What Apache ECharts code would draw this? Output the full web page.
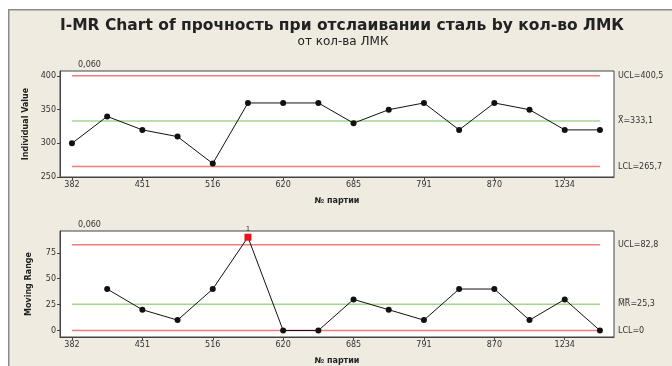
<!DOCTYPE html>
<html>
<head>
<meta charset="utf-8">
<script src="https://cdn.jsdelivr.net/npm/echarts@6/dist/echarts.min.js"></script>
<style>
  html, body { margin: 0; padding: 0; background: #ffffff; }
  #chart { width: 672px; height: 366px; }
</style>
</head>
<body>
<div id="chart"></div>
<script>
// Lot numbers shown on the x axis (every second observation)
const tickPositions = [0, 2, 4, 6, 8, 10, 12, 14];
const tickLabels = ['382', '451', '516', '620', '685', '791', '870', '1234'];

// Individual peel-strength values per lot
const individualValues = [300, 340, 320, 310, 270, 360, 360, 360, 330, 350, 360, 320, 360, 350, 320, 320];

// Moving ranges (start at the second observation)
const movingRanges = [40, 20, 10, 40, 90, 0, 0, 30, 20, 10, 40, 40, 10, 30, 0];

// Control limits
const iLimits = { ucl: 400.5, center: 333.1, lcl: 265.7 };
const mrLimits = { ucl: 82.8, center: 25.3, lcl: 0 };
const iLimitLabels = ['UCL=400,5', 'X\u0305=333,1', 'LCL=265,7'];
const mrLimitLabels = ['UCL=82,8', 'M\u0305R\u0305=25,3', 'LCL=0'];

// Observations that fail test 1 on the MR chart
const mrOutOfControl = [5];

const FONT = 'DejaVu Sans';
const RED = '#f27c7c';
const GREEN = '#a6d68c';
const TXT = '#333333';
const lastIndex = individualValues.length - 1;

function xAxisFor(gridIndex) {
  return {
    type: 'value', gridIndex, min: -0.34, max: 15.4,
    name: '№ партии', nameLocation: 'middle', nameGap: 20,
    nameTextStyle: { fontFamily: FONT, fontWeight: 'bold', fontSize: 8, color: '#222' },
    axisLine: { show: true, onZero: false, lineStyle: { color: '#444', width: 1 } },
    axisTick: { show: true, length: 3, customValues: tickPositions, lineStyle: { color: '#444' } },
    axisLabel: {
      customValues: tickPositions, margin: 4, fontFamily: FONT, fontSize: 8, color: TXT,
      formatter: v => tickLabels[tickPositions.indexOf(Math.round(v))]
    },
    splitLine: { show: false }
  };
}

function limitSeries(gridIndex, value, color, label) {
  return {
    type: 'line', xAxisIndex: gridIndex, yAxisIndex: gridIndex,
    data: [[0, value], [lastIndex, value]],
    symbol: 'none', silent: true, z: 1,
    lineStyle: { color, width: 1.6 },
    endLabel: { show: true, formatter: label, distance: 18, fontFamily: FONT, fontSize: 8, color: TXT }
  };
}

const iPoints = individualValues.map((v, i) => [i, v]);
const mrPoints = movingRanges.map((v, i) => {
  const x = i + 1;
  if (mrOutOfControl.includes(x)) {
    return {
      value: [x, v], symbol: 'rect', symbolSize: 7,
      itemStyle: { color: '#e8141c' },
      label: { show: true, formatter: '1', position: 'top', distance: 1, fontFamily: FONT, fontSize: 7, color: TXT }
    };
  }
  return [x, v];
});

const smallText = { fontFamily: FONT, fontWeight: 'normal', fontSize: 8, color: TXT };

const option = {
  backgroundColor: '#ffffff',
  animation: false,
  graphic: [{
    type: 'rect', left: 8, top: 9, z: -10,
    shape: { width: 680, height: 370 },
    style: { fill: '#efebe1', stroke: '#8a8a8a', lineWidth: 1.5 }
  }],
  title: [
    { text: 'I-MR Chart of прочность при отслаивании сталь by кол-во ЛМК', left: 342, textAlign: 'center', top: 18, padding: 0,
      textStyle: { fontFamily: FONT, fontWeight: 'bold', fontSize: 15.5, color: '#222' } },
    { text: 'от кол-ва ЛМК', left: 343, textAlign: 'center', top: 36, padding: 0,
      textStyle: { fontFamily: FONT, fontWeight: 'normal', fontSize: 12, color: '#222' } },
    { text: '0,060', left: 78, top: 61, padding: 0, textStyle: smallText },
    { text: '0,060', left: 78, top: 221, padding: 0, textStyle: smallText }
  ],
  grid: [
    { left: 60, top: 71, width: 554, height: 106, show: true, backgroundColor: '#ffffff', borderColor: '#444', borderWidth: 1 },
    { left: 60, top: 231, width: 554, height: 107, show: true, backgroundColor: '#ffffff', borderColor: '#444', borderWidth: 1 }
  ],
  xAxis: [xAxisFor(0), xAxisFor(1)],
  yAxis: [
    {
      type: 'value', gridIndex: 0, min: 250, max: 407.5, interval: 50,
      name: 'Individual Value', nameLocation: 'middle', nameGap: 30,
      nameTextStyle: { fontFamily: FONT, fontWeight: 'bold', fontSize: 8, color: '#222' },
      axisLine: { show: true, onZero: false, lineStyle: { color: '#444' } },
      axisTick: { show: true, length: 3, customValues: [250, 300, 350, 400], lineStyle: { color: '#444' } },
      axisLabel: { customValues: [250, 300, 350, 400], margin: 4, fontFamily: FONT, fontSize: 8, color: TXT },
      splitLine: { show: false }
    },
    {
      type: 'value', gridIndex: 1, min: -6.3, max: 96,
      name: 'Moving Range', nameLocation: 'middle', nameGap: 27,
      nameTextStyle: { fontFamily: FONT, fontWeight: 'bold', fontSize: 8, color: '#222' },
      axisLine: { show: true, onZero: false, lineStyle: { color: '#444' } },
      axisTick: { show: true, length: 3, customValues: [0, 25, 50, 75], lineStyle: { color: '#444' } },
      axisLabel: { customValues: [0, 25, 50, 75], margin: 4, fontFamily: FONT, fontSize: 8, color: TXT },
      splitLine: { show: false }
    }
  ],
  series: [
    limitSeries(0, iLimits.ucl, RED, iLimitLabels[0]),
    limitSeries(0, iLimits.center, GREEN, iLimitLabels[1]),
    limitSeries(0, iLimits.lcl, RED, iLimitLabels[2]),
    limitSeries(1, mrLimits.ucl, RED, mrLimitLabels[0]),
    limitSeries(1, mrLimits.center, GREEN, mrLimitLabels[1]),
    limitSeries(1, mrLimits.lcl, RED, mrLimitLabels[2]),
    {
      type: 'line', xAxisIndex: 0, yAxisIndex: 0, data: iPoints, z: 5,
      symbol: 'circle', symbolSize: 6,
      itemStyle: { color: '#111' }, lineStyle: { color: '#111', width: 1 }
    },
    {
      type: 'line', xAxisIndex: 1, yAxisIndex: 1, data: mrPoints, z: 5,
      symbol: 'circle', symbolSize: 6,
      itemStyle: { color: '#111' }, lineStyle: { color: '#111', width: 1 }
    }
  ]
};

const chart = echarts.init(document.getElementById('chart'), null, { renderer: 'canvas' });
chart.setOption(option);
</script>
</body>
</html>
